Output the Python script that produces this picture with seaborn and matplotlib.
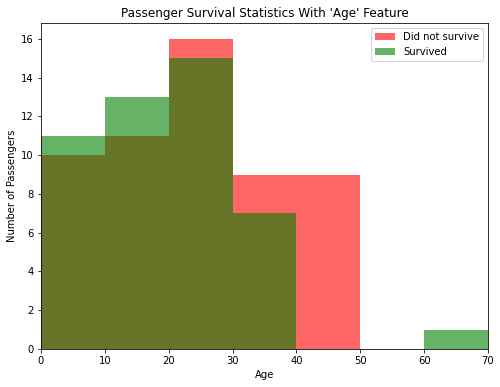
import numpy as np
import matplotlib
matplotlib.use("Agg")
import matplotlib.pyplot as plt
import seaborn as sns

# ==============================
# Data (counts per 10-year age bin)
# ==============================
bin_edges = [0, 10, 20, 30, 40, 50, 60, 70]
bin_centers = [5, 15, 25, 35, 45, 55, 65]
did_not_survive = [10, 11, 16, 9, 9, 0, 0]
survived = [11, 13, 15, 7, 0, 0, 1]

# ==============================
# Plot
# ==============================
plt.rcParams['font.family'] = ['DejaVu Sans']
fig = plt.figure(figsize=(500 / 72, 387 / 72), dpi=72)
ax = fig.add_axes([0.082, 0.098, 0.894, 0.842])

sns.histplot(x=bin_centers, weights=did_not_survive, bins=bin_edges,
             color="red", alpha=0.6, linewidth=0, ax=ax, label="Did not survive")
sns.histplot(x=bin_centers, weights=survived, bins=bin_edges,
             color="g", alpha=0.6, linewidth=0, ax=ax, label="Survived")

ax.set_xlim(0, 70)
ax.set_title("Passenger Survival Statistics With 'Age' Feature")
ax.set_xlabel("Age")
ax.set_ylabel("Number of Passengers")
ax.legend(loc="upper right")

fig.savefig("out.png", dpi=72)
